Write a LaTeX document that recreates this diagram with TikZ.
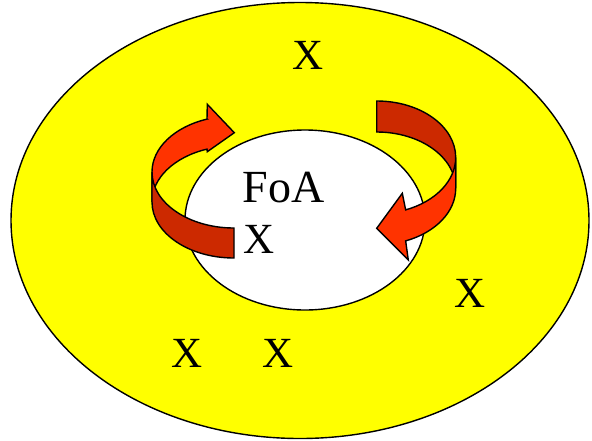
\documentclass[tikz,border=0pt]{standalone}
\usepackage{fontspec}
\setmainfont{Liberation Serif}
\usepackage{tikz}
\usetikzlibrary{positioning}
\definecolor{fieldyellow}{RGB}{255,255,0}
\definecolor{ribbonlight}{RGB}{255,51,0}
\definecolor{ribbondark}{RGB}{204,41,0}

\begin{document}
\begin{tikzpicture}[x=1pt, y=-1pt,
    ribbon/.style={draw=black, line width=1.4pt, line join=miter},
    mark x/.style={inner sep=0pt, font=\fontsize{43}{48}\selectfont}]
    \useasboundingbox (0,0) rectangle (592,440);

    % 视野外区域
    \draw[fill=fieldyellow, line width=1.4pt] (300,220.5) ellipse [x radius=289, y radius=218];
    % 注意焦点 FoA
    \draw[fill=white, line width=1.4pt] (305,220) ellipse [x radius=120, y radius=90];

    % 左侧箭头：后段（带箭头）
    \fill[ribbonlight] (207,119.1) -- (207.3,104.3) -- (234.3,132.7) -- (207.3,151.7) -- (207,149.1)
        arc[start angle=250.8, end angle=180, x radius=82, y radius=56] -- (152,172)
        arc[start angle=180, end angle=250.8, x radius=82, y radius=56] -- cycle;
    \draw[ribbon] (207,119.1) -- (207.3,104.3) -- (234.3,132.7) -- (207.3,151.7) -- (207,149.1)
        arc[start angle=250.8, end angle=180, x radius=82, y radius=56] -- (152,172)
        arc[start angle=180, end angle=250.8, x radius=82, y radius=56] -- cycle;
    % 左侧箭头：前段
    \draw[ribbon, fill=ribbondark] (152,172)
        arc[start angle=180, end angle=90, x radius=82, y radius=56] -- (234,258)
        arc[start angle=90, end angle=180, x radius=82, y radius=56] -- cycle;

    % 右侧箭头：后段
    \draw[ribbon, fill=ribbondark] (376.7,101)
        arc[start angle=270, end angle=360, x radius=79, y radius=56.4] -- (455.7,188.4)
        arc[start angle=360, end angle=270, x radius=79, y radius=56.4] -- cycle;
    % 右侧箭头：前段（带箭头）
    \draw[ribbon, fill=ribbonlight] (455.7,157.4)
        arc[start angle=0, end angle=68.5, x radius=79, y radius=56.4]
        -- (402.3,193.3) -- (376.7,228.3) -- (408.3,260) -- (405.65,240.9)
        arc[start angle=68.5, end angle=0, x radius=79, y radius=56.4] -- cycle;

    % 文字
    \node[mark x, anchor=west, font=\fontsize{46}{52}\selectfont] (foa) at (242.5,187.5) {FoA};
    \node[mark x, anchor=west] (focusx) at (243,239.7) {X};
    \node[mark x] (topx) at (308.3,55) {X};
    \node[mark x] (rightx) at (470.5,293.7) {X};
    \foreach \px/\nm in {186.7/lowx1, 278.3/lowx2} {
        \node[mark x] (\nm) at (\px,353.7) {X};
    }
\end{tikzpicture}
\end{document}
